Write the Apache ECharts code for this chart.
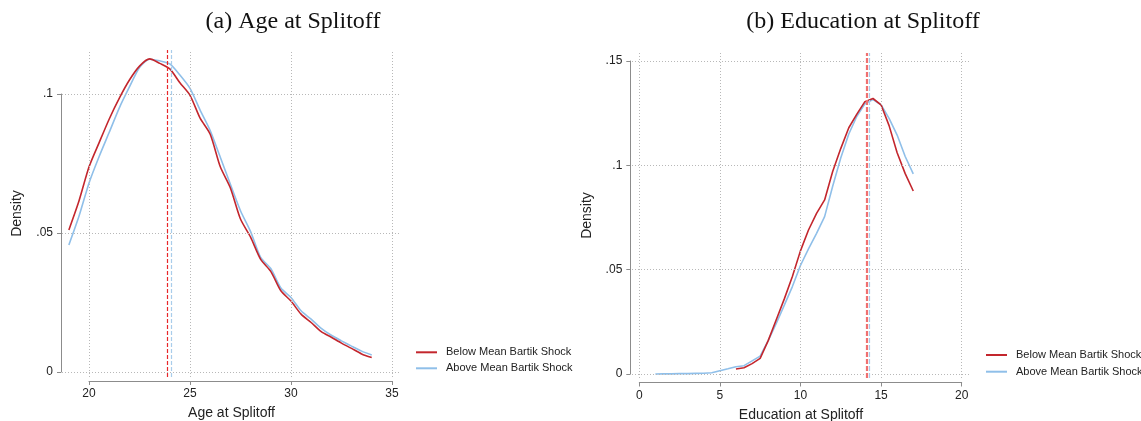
<!DOCTYPE html>
<html>
<head>
<meta charset="utf-8">
<script src="https://cdn.jsdelivr.net/npm/echarts@6/dist/echarts.min.js"></script>
<style>
  html, body { margin: 0; padding: 0; background: #fff; }
  #chart { width: 1141px; height: 421px; }
</style>
</head>
<body>
<div id="chart"></div>
<script>
// ---- Panel (a): age at splitoff, kernel density by Bartik shock group ----
const ageGrid = [19, 19.5, 20, 20.5, 21, 21.5, 22, 22.5, 23, 23.5, 24, 24.5, 25, 25.5, 26, 26.5,
  27, 27.5, 28, 28.5, 29, 29.5, 30, 30.5, 31, 31.5, 32, 32.5, 33, 33.5, 34];
const ageBelow = [0.0511, 0.0615, 0.0738, 0.0825, 0.0910, 0.0985, 0.1050, 0.1100, 0.1126, 0.1110,
  0.1090, 0.1040, 0.0995, 0.0913, 0.0855, 0.0738, 0.0662, 0.0550, 0.0485, 0.0405, 0.0362, 0.0292,
  0.0255, 0.0208, 0.0178, 0.0145, 0.0125, 0.0104, 0.0085, 0.0065, 0.0052];
const ageAbove = [0.0457, 0.0560, 0.0680, 0.0775, 0.0862, 0.0950, 0.1025, 0.1095, 0.1125, 0.1119,
  0.1108, 0.1068, 0.1020, 0.0942, 0.0868, 0.0772, 0.0675, 0.0580, 0.0505, 0.0412, 0.0372, 0.0302,
  0.0268, 0.0220, 0.0190, 0.0157, 0.0132, 0.0112, 0.0093, 0.0075, 0.0061];
const ageMeans = { below: 23.88, above: 24.09 };
const ageXTicks = [20, 25, 30, 35];
const ageYTicks = [0, 0.05, 0.1];
const ageYTickLabels = ['0', '.05', '.1'];

// ---- Panel (b): education at splitoff ----
const eduGridBelow = [6, 6.5, 7, 7.5, 8, 8.5, 9, 9.5, 10, 10.5, 11, 11.5, 12, 12.5, 13, 13.5,
  14, 14.5, 15, 15.5, 16, 16.5, 17];
const eduBelow = [0.0024, 0.0030, 0.0050, 0.0075, 0.0160, 0.0260, 0.0360, 0.0467, 0.0590, 0.0690,
  0.0770, 0.0834, 0.0970, 0.1080, 0.1180, 0.1245, 0.1305, 0.1320, 0.1290, 0.1190, 0.1060, 0.0960, 0.0877];
const eduGridAbove = [1, 1.5, 2, 2.5, 3, 3.5, 4, 4.5, 5, 5.5, 6, 6.5, 7, 7.5, 8, 8.5, 9, 9.5, 10,
  10.5, 11, 11.5, 12, 12.5, 13, 13.5, 14, 14.5, 15, 15.5, 16, 16.5, 17];
const eduAbove = [0.0000, 0.0001, 0.0001, 0.0002, 0.0002, 0.0003, 0.0004, 0.0006, 0.0016, 0.0025,
  0.0035, 0.0040, 0.0063, 0.0086, 0.0160, 0.0243, 0.0330, 0.0419, 0.0520, 0.0600, 0.0674, 0.0754,
  0.0900, 0.1035, 0.1150, 0.1235, 0.1295, 0.1315, 0.1290, 0.1225, 0.1145, 0.1042, 0.0959];
const eduMeans = { below: 14.13, above: 14.29 };
const eduXTicks = [0, 5, 10, 15, 20];
const eduYTicks = [0, 0.05, 0.1, 0.15];
const eduYTickLabels = ['0', '.05', '.1', '.15'];

const seriesNames = ['Below Mean Bartik Shock', 'Above Mean Bartik Shock'];
const titles = ['(a) Age at Splitoff', '(b) Education at Splitoff'];

const RED = '#c3262d';
const BLUE = '#8fbfe9';
const AXIS = '#8c8c8c';
const GRIDC = '#b8b8b8';
const SANS = '"Liberation Sans", Arial, sans-serif';

const pairs = (xs, ys) => xs.map((x, i) => [x, ys[i]]);
const tickLabel = (ticks, labels) => v => {
  const i = ticks.findIndex(t => Math.abs(t - v) < 1e-9);
  return i >= 0 ? labels[i] : '';
};

// plot-region extents (data units) for each panel
const ageRange = { xMin: 18.66, xMax: 35.45, yMin: -0.0018, yMax: 0.1158 };
const eduRange = { xMin: -0.45, xMax: 20.52, yMin: -0.0019, yMax: 0.1538 };

function gridLines(r, xt, yt) {
  const d = [];
  xt.forEach(x => d.push([{ coord: [x, r.yMin] }, { coord: [x, r.yMax] }]));
  yt.forEach(y => d.push([{ coord: [r.xMin, y] }, { coord: [r.xMax, y] }]));
  return d;
}

function meanLines(r, m, color, width, dash) {
  return {
    silent: true, symbol: 'none', label: { show: false },
    lineStyle: { color: color, width: width, type: dash },
    data: [[{ coord: [m, r.yMin] }, { coord: [m, r.yMax] }]]
  };
}

function plotAxes(r, gridIndex, xName, yName, xGap) {
  return {
    x: {
      type: 'value', gridIndex, min: r.xMin, max: r.xMax,
      axisLine: { show: false, onZero: false }, axisTick: { show: false }, axisLabel: { show: false },
      splitLine: { show: false },
      name: xName, nameLocation: 'middle', nameGap: xGap,
      nameTextStyle: { fontFamily: SANS, fontSize: 14, color: '#222' }
    },
    y: {
      type: 'value', gridIndex, min: r.yMin, max: r.yMax,
      axisLine: { show: false, onZero: false }, axisTick: { show: false }, axisLabel: { show: false },
      splitLine: { show: false },
      name: yName, nameLocation: 'middle', nameGap: 38,
      nameTextStyle: { fontFamily: SANS, fontSize: 14, color: '#222' }
    }
  };
}

function tickAxes(gridIndex, xt, yt, yLabels, xOffset, yOffset) {
  const common = () => ({
    axisLine: { show: true, onZero: false, lineStyle: { color: AXIS, width: 1 } },
    axisTick: { show: true, length: 4, lineStyle: { color: AXIS, width: 1 } },
    splitLine: { show: false }
  });
  return {
    x: Object.assign({
      type: 'value', gridIndex, min: xt[0], max: xt[xt.length - 1], interval: xt[1] - xt[0],
      offset: xOffset,
      axisLabel: { fontFamily: SANS, fontSize: 12, color: '#222', margin: 7 }
    }, common()),
    y: Object.assign({
      type: 'value', gridIndex, min: yt[0], max: yt[yt.length - 1], interval: yt[1] - yt[0],
      offset: yOffset,
      axisLabel: { fontFamily: SANS, fontSize: 12, color: '#222', margin: 8,
        formatter: tickLabel(yt, yLabels) }
    }, common())
  };
}

const aPlot = plotAxes(ageRange, 0, 'Age at Splitoff', 'Density', 29);
const aTick = tickAxes(1, ageXTicks, ageYTicks, ageYTickLabels, 9, 28);
const bPlot = plotAxes(eduRange, 2, 'Education at Splitoff', 'Density', 30);
const bTick = tickAxes(3, eduXTicks, eduYTicks, eduYTickLabels, 8.5, 9);

const gridStyle = { color: GRIDC, width: 1, type: [1, 2] };

const legendBase = {
  data: seriesNames, orient: 'vertical', icon: 'rect',
  itemWidth: 21, itemHeight: 2, selectedMode: false,
  textStyle: { fontFamily: SANS, fontSize: 11, color: '#222', lineHeight: 12, padding: [0, 0, 0, 4] }
};

const gridBox = (left, top, width, height) =>
  ({ left, top, width, height, outerBoundsMode: 'none', containLabel: false });

const option = {
  animation: false,
  backgroundColor: '#fff',
  grid: [
    gridBox(62, 50, 339, 327),
    gridBox(89, 94, 303, 278),
    gridBox(632, 53, 338, 325),
    gridBox(639.3, 61, 322.4, 313)
  ],
  xAxis: [aPlot.x, aTick.x, bPlot.x, bTick.x],
  yAxis: [aPlot.y, aTick.y, bPlot.y, bTick.y],
  legend: [
    Object.assign({ left: 411, top: 341.3, itemGap: 4 }, legendBase),
    Object.assign({ left: 981, top: 344, itemGap: 4.7 }, legendBase)
  ],
  graphic: titles.map((t, i) => ({
    type: 'text', x: i === 0 ? 293 : 863, y: 22, silent: true,
    style: {
      text: t, fill: '#111', font: '24px "Liberation Serif", "Times New Roman", serif',
      textAlign: 'center', textVerticalAlign: 'middle'
    }
  })),
  series: [
    // panel (a) reference grid
    {
      type: 'line', xAxisIndex: 0, yAxisIndex: 0, data: [], z: 1, silent: true,
      markLine: { silent: true, symbol: 'none', label: { show: false }, lineStyle: gridStyle,
        data: gridLines(ageRange, ageXTicks, ageYTicks) }
    },
    {
      name: seriesNames[0], type: 'line', xAxisIndex: 0, yAxisIndex: 0, z: 3,
      data: pairs(ageGrid, ageBelow), showSymbol: false, symbol: 'none', smooth: 0.25,
      lineStyle: { color: RED, width: 1.6 }, itemStyle: { color: RED },
      markLine: meanLines(ageRange, ageMeans.below, '#e8272a', 1.2, [4, 2])
    },
    {
      name: seriesNames[1], type: 'line', xAxisIndex: 0, yAxisIndex: 0, z: 2,
      data: pairs(ageGrid, ageAbove), showSymbol: false, symbol: 'none', smooth: 0.25,
      lineStyle: { color: BLUE, width: 1.6 }, itemStyle: { color: BLUE },
      markLine: meanLines(ageRange, ageMeans.above, '#a9cdeb', 1.2, [4, 2])
    },
    // panel (b) reference grid
    {
      type: 'line', xAxisIndex: 2, yAxisIndex: 2, data: [], z: 1, silent: true,
      markLine: { silent: true, symbol: 'none', label: { show: false }, lineStyle: gridStyle,
        data: gridLines(eduRange, eduXTicks, eduYTicks) }
    },
    {
      name: seriesNames[0], type: 'line', xAxisIndex: 2, yAxisIndex: 2, z: 3,
      data: pairs(eduGridBelow, eduBelow), showSymbol: false, symbol: 'none',
      lineStyle: { color: RED, width: 1.6 }, itemStyle: { color: RED },
      markLine: meanLines(eduRange, eduMeans.below, '#f07070', 2.2, [5, 2])
    },
    {
      name: seriesNames[1], type: 'line', xAxisIndex: 2, yAxisIndex: 2, z: 2,
      data: pairs(eduGridAbove, eduAbove), showSymbol: false, symbol: 'none',
      lineStyle: { color: BLUE, width: 1.6 }, itemStyle: { color: BLUE },
      markLine: meanLines(eduRange, eduMeans.above, '#a9cdeb', 1.2, [5, 2])
    }
  ]
};

const chart = echarts.init(document.getElementById('chart'), null, { renderer: 'canvas' });
chart.setOption(option);
</script>
</body>
</html>
